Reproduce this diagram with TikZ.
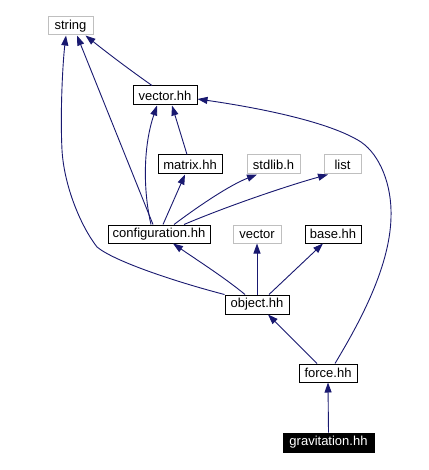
\documentclass[tikz,border=0pt]{standalone}
\usepackage{fontspec}
\setmainfont{Liberation Sans}
\usetikzlibrary{arrows.meta}
\definecolor{edgeblue}{HTML}{191970}
\definecolor{boxgray}{HTML}{BFBFBF}
\begin{document}
\begin{tikzpicture}[x=1pt,y=-1pt,
  box/.style={draw=black,line width=1pt,inner sep=0pt,font=\fontsize{13}{15}\selectfont,minimum height=19pt},
  ext/.style={box,draw=boxgray},
  cur/.style={box,fill=black,text=white},
  dep/.style={draw=edgeblue,line width=0.9pt,-{Triangle[length=10pt,width=7pt]},color=edgeblue}]
\useasboundingbox[fill=white] (0,0) rectangle (428,470);
\node[ext,minimum width=45pt,minimum height=18pt] (string) at (70.5,26) {string};
\node[box,minimum width=64pt] (vectorhh) at (165,95.5) {vector.hh};
\node[box,minimum width=64pt] (matrix) at (190,164.5) {matrix.hh};
\node[ext,minimum width=53pt] (stdlib) at (273.5,164.5) {stdlib.h};
\node[ext,minimum width=37pt] (list) at (342.5,164.5) {list};
\node[box,minimum width=102pt,minimum height=18pt] (config) at (159,234) {configuration.hh};
\node[ext,minimum width=48pt,minimum height=18pt] (vector) at (257,234) {vector};
\node[box,minimum width=56pt,minimum height=18pt] (base) at (333,234) {base.hh};
\node[box,minimum width=64pt] (object) at (257,304.5) {object.hh};
\node[box,minimum width=58pt,minimum height=18pt] (force) at (328,373) {force.hh};
\node[cur,minimum width=91pt] (grav) at (328.5,442.5) {gravitation.hh};

\draw[dep] ([xshift=-13pt]vectorhh.north) .. controls (130,70) and (110,55) .. ([xshift=15pt]string.south);
\draw[dep] ([xshift=-6pt]config.north) -- ([xshift=6.5pt]string.south);
\draw[dep] (object.north west) .. controls (180,283) and (115,262) .. (97,247)
  .. controls (80,225) and (64,185) .. (62,150)
  .. controls (60,110) and (63,60) .. ([xshift=-4.5pt]string.south);
\draw[dep] ([xshift=-8pt]config.north) .. controls (144,195) and (142,150) .. ([xshift=-8pt]vectorhh.south);
\draw[dep] ([xshift=-3pt]matrix.north) -- ([xshift=7pt]vectorhh.south);
\draw[dep] ([xshift=4pt]config.north) -- ([xshift=-5pt]matrix.south);
\draw[dep] ([xshift=15pt]config.north) .. controls (200,205) and (230,185) .. ([xshift=-16.5pt]stdlib.south);
\draw[dep] ([xshift=25pt]config.north) .. controls (230,205) and (290,185) .. ([xshift=-14.5pt]list.south);
\draw[dep] ([xshift=-12pt]object.north) .. controls (225,278) and (200,262) .. ([xshift=14pt]config.south);
\draw[dep] (object.north) -- (vector.south);
\draw[dep] ([xshift=12pt]object.north) -- ([xshift=-10pt]base.south);
\draw[dep] ([xshift=-11pt]force.north) -- ([xshift=11pt]object.south);
\draw[dep] ([xshift=7pt]force.north) .. controls (355,330) and (390,270) .. (391,217)
  .. controls (392,185) and (380,155) .. (361,142)
  .. controls (330,122) and (260,108) .. ([yshift=-3.5pt]vectorhh.east);
\draw[dep] (grav.north) -- (force.south);
\end{tikzpicture}
\end{document}
